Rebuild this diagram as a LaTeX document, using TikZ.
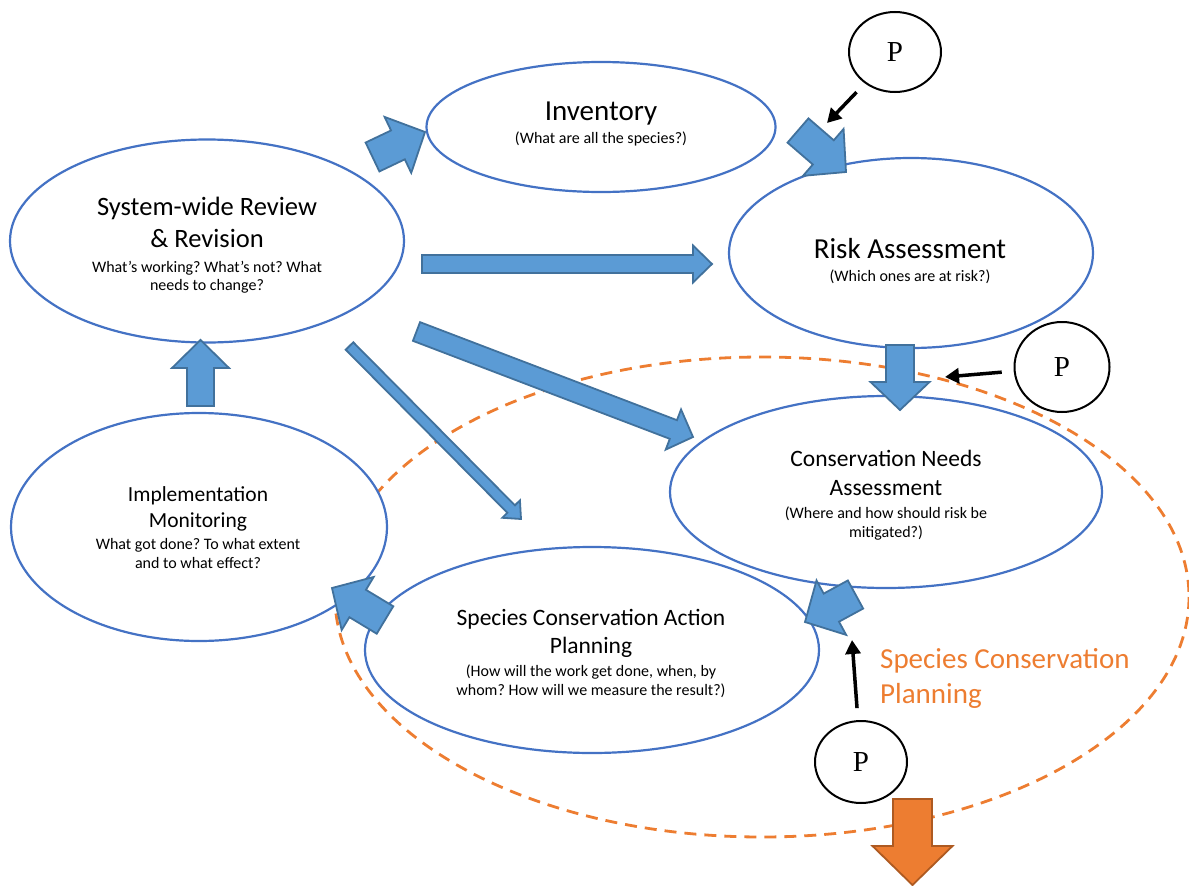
\documentclass[tikz,border=0pt]{standalone}
\usepackage{fontspec}
\setmainfont{Carlito}
\newfontfamily\pfont{Liberation Serif}
\usetikzlibrary{calc,arrows.meta,shapes.geometric}
\frenchspacing
\definecolor{eblue}{HTML}{4472C4}
\definecolor{afill}{HTML}{5B9BD5}
\definecolor{aline}{HTML}{41719C}
\definecolor{ofill}{HTML}{ED7D31}
\definecolor{oline}{HTML}{AE5A21}
% #2 tail, #3 tip, #4 shaft half width, #5 head half width, #6 head length
\newcommand{\blockarr}[6][]{%
  \coordinate (hb) at ($(#3)!#6!(#2)$);
  \draw[blockarrow,#1] ($(#2)!#4!90:(#3)$) -- ($(hb)!#4!-90:(#2)$) -- ($(hb)!#5!-90:(#2)$) -- (#3)
    -- ($(hb)!#5!90:(#2)$) -- ($(hb)!#4!90:(#2)$) -- ($(#2)!#4!-90:(#3)$) -- cycle;
}
\tikzset{
  proc/.style={ellipse, draw=eblue, line width=2.2pt, fill=white, inner sep=0pt},
  blockarrow/.style={fill=afill, draw=aline, line width=1.8pt, line join=miter},
  orangearrow/.style={fill=ofill, draw=oline, line width=1.8pt, line join=miter},
  pcirc/.style={ellipse, draw=black, line width=2pt, fill=white, inner sep=0pt, font=\pfont\fontsize{29}{30}\selectfont},
  parr/.style={line width=3.5pt, -{Triangle[length=14pt,width=15pt]}, shorten <=12pt},
  tbig/.style={anchor=base, inner sep=0pt, font=\fontsize{29}{35}\selectfont},
  trev/.style={anchor=base, inner sep=0pt, font=\fontsize{26.5}{32}\selectfont},
  tmid/.style={anchor=base, inner sep=0pt, font=\fontsize{23.5}{28}\selectfont},
  timp/.style={anchor=base, inner sep=0pt, font=\fontsize{21.5}{26}\selectfont},
  tsub/.style={anchor=base, inner sep=0pt, font=\fontsize{16}{19}\selectfont},
  torg/.style={anchor=base west, inner sep=0pt, text=ofill, font=\fontsize{29}{35}\selectfont},
}
\begin{document}
\begin{tikzpicture}[x=1pt,y=-1pt]
\useasboundingbox (0,0) rectangle (1189,886);
% dashed planning boundary
\draw[ofill, line width=2.8pt, dash pattern=on 12pt off 8pt] (762,597) ellipse [x radius=427, y radius=240];

% process ellipses
\node[proc, minimum width=349pt, minimum height=130pt] (inv) at (601,127) {};
\node[proc, minimum width=394pt, minimum height=203pt] (rev) at (207,241) {};
\node[proc, minimum width=364pt, minimum height=190pt] (risk) at (911,253) {};
\node[proc, minimum width=432pt, minimum height=192pt] (cna) at (886,492) {};
\node[proc, minimum width=376pt, minimum height=228pt] (imp) at (199,527) {};
\node[proc, minimum width=454pt, minimum height=206pt] (scap) at (592,650) {};

% texts
\node[tbig] (invt) at (601,120) {Inventory};
\node[tsub] (invs) at (601,143) {(What are all the species?)};
\node[trev] (revt1) at (207,215) {System-wide Review};
\node[trev] (revt2) at (207,247) {\&~Revision};
\node[tsub] (revs1) at (207,272) {What’s working? What’s not? What};
\node[tsub] (revs2) at (207,290) {needs to change?};
\node[tbig] (riskt) at (910,258) {Risk Assessment};
\node[tsub] (risks) at (910,281) {(Which ones are at risk?)};
\node[tmid] (cnat1) at (886,466) {Conservation Needs};
\node[tmid] (cnat2) at (886,495) {Assessment};
\node[tsub] (cnas1) at (886,518) {(Where and how should risk be};
\node[tsub] (cnas2) at (886,537) {mitigated?)};
\node[timp] (impt1) at (198,501) {Implementation};
\node[timp] (impt2) at (198,527) {Monitoring};
\node[tsub] (imps1) at (198,549) {What got done? To what extent};
\node[tsub] (imps2) at (198,568) {and to what effect?};
\node[tmid] (scapt1) at (591,625) {Species Conservation Action};
\node[tmid] (scapt2) at (591,653) {Planning};
\node[tsub] (scaps1) at (591,676) {(How will the work get done, when, by};
\node[tsub] (scaps2) at (591,695) {whom? How will we measure the result?)};
\node[torg] (orgt1) at (880,668) {Species Conservation};
\node[torg] (orgt2) at (880,703) {Planning};

% block arrow end points
\coordinate (a1s) at (372.5,157); \coordinate (a1e) at (425,132);
\coordinate (a2s) at (798,130.5); \coordinate (a2e) at (846,172);
\coordinate (a3s) at (422,264);   \coordinate (a3e) at (712,264);
\coordinate (a4s) at (416.5,331.5); \coordinate (a4e) at (693,437);
\coordinate (a5s) at (349.5,346); \coordinate (a5e) at (521,519);
\coordinate (a6s) at (200.5,406); \coordinate (a6e) at (200.5,340);
\coordinate (a7s) at (900,345);   \coordinate (a7e) at (900,410);
\coordinate (a8s) at (855.5,594.5); \coordinate (a8e) at (805,622);
\coordinate (a9s) at (385,620);   \coordinate (a9e) at (332,588);
\coordinate (a10s) at (912.5,799); \coordinate (a10e) at (912.5,885);

\blockarr{a1s}{a1e}{16pt}{31pt}{30pt}
\blockarr{a2s}{a2e}{16pt}{31pt}{30pt}
\blockarr{a3s}{a3e}{9pt}{18.5pt}{19pt}
\blockarr{a4s}{a4e}{10pt}{21.5pt}{21pt}
\blockarr{a5s}{a5e}{5.3pt}{12.4pt}{14pt}
\blockarr{a6s}{a6e}{13.5pt}{28.5pt}{28pt}
\blockarr{a7s}{a7e}{14pt}{29.5pt}{28pt}
\blockarr{a8s}{a8e}{16pt}{31pt}{30pt}
\blockarr{a9s}{a9e}{16pt}{31pt}{30pt}
\blockarr[orangearrow]{a10s}{a10e}{19.5pt}{40pt}{39pt}

% P circles and arrows
\node[pcirc, minimum width=92pt, minimum height=80pt] (p1) at (895,52) {P};
\node[pcirc, minimum width=95pt, minimum height=90pt] (p2) at (1062,367) {P};
\node[pcirc, minimum width=92pt, minimum height=82pt] (p3) at (861,762) {P};
\coordinate (t1) at (827,123);
\coordinate (t2) at (945,377);
\coordinate (t3) at (852,640);
\draw[parr] (p1) -- (t1);
\draw[parr] (p2) -- (t2);
\draw[parr] (p3) -- (t3);
\end{tikzpicture}
\end{document}
